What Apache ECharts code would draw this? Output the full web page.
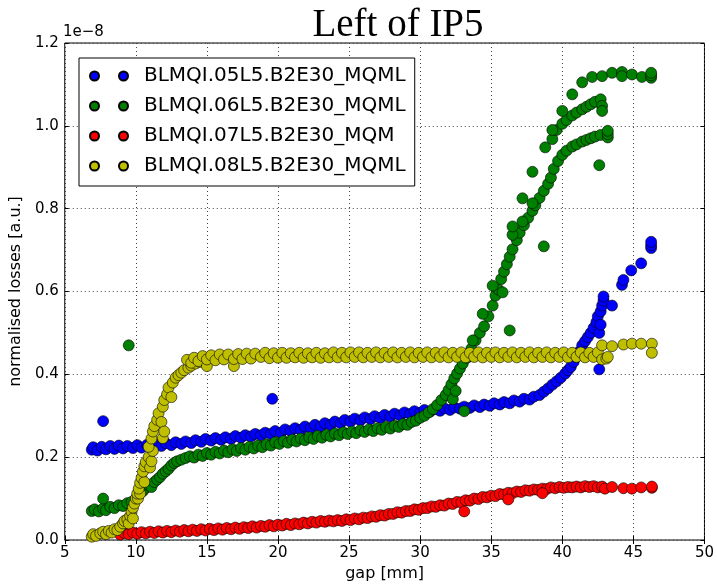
<!DOCTYPE html>
<html>
<head>
<meta charset="utf-8">
<script src="https://cdn.jsdelivr.net/npm/echarts@6/dist/echarts.min.js"></script>
<style>
  html, body { margin: 0; padding: 0; background: #fff; }
  #chart { width: 717px; height: 587px; }
</style>
</head>
<body>
<div id="chart"></div>
<script>
// losses in units of 1e-8, gap in mm
var xTicks = [5, 10, 15, 20, 25, 30, 35, 40, 45, 50];
var yTicks = [0.0, 0.2, 0.4, 0.6, 0.8, 1.0, 1.2];
var seriesNames = ['BLMQI.05L5.B2E30_MQML', 'BLMQI.06L5.B2E30_MQML', 'BLMQI.07L5.B2E30_MQM', 'BLMQI.08L5.B2E30_MQML'];

var blm05 = [
  [6.9,0.218],[7.0,0.224],[7.3,0.216],[7.6,0.225],[7.9,0.219],[8.2,0.227],[8.5,0.220],[8.8,0.228],[9.1,0.221],[9.4,0.227],
  [9.8,0.222],[10.1,0.229],[10.4,0.223],[10.8,0.230],[11.1,0.225],[11.4,0.232],[11.8,0.227],[12.1,0.234],[12.5,0.229],[12.8,0.236],
  [13.2,0.232],[13.5,0.238],[13.9,0.234],[14.2,0.241],[14.6,0.237],[14.9,0.244],[15.3,0.240],[15.6,0.246],[16.0,0.242],[16.3,0.248],
  [16.7,0.244],[17.0,0.251],[17.4,0.247],[17.7,0.253],[18.1,0.250],[18.4,0.256],[18.8,0.253],[19.1,0.259],[19.5,0.256],[19.8,0.263],
  [20.2,0.259],[20.5,0.267],[20.9,0.263],[21.2,0.270],[21.6,0.266],[21.9,0.274],[22.3,0.270],[22.6,0.278],[23.0,0.274],[23.3,0.282],
  [23.7,0.278],[24.0,0.286],[24.4,0.282],[24.7,0.290],[25.1,0.286],[25.4,0.293],[25.8,0.289],[26.1,0.296],[26.5,0.292],[26.8,0.299],
  [27.2,0.295],[27.5,0.302],[27.9,0.298],[28.2,0.305],[28.6,0.301],[28.9,0.308],[29.3,0.304],[29.6,0.311],[30.0,0.307],[30.3,0.314],
  [30.7,0.310],[31.0,0.316],[31.4,0.312],[31.7,0.318],[32.1,0.314],[32.4,0.320],[32.8,0.317],[33.1,0.322],[33.5,0.319],[33.8,0.325],
  [34.2,0.321],[34.5,0.327],[34.9,0.324],[35.2,0.330],[35.6,0.327],[35.9,0.333],[36.3,0.330],[36.6,0.337],[37.0,0.334],[37.3,0.341],
  [37.7,0.339],[38.0,0.346],[38.4,0.350],[38.7,0.358],[39.0,0.366],[39.3,0.375],[39.6,0.383],[39.9,0.392],[40.2,0.402],[40.4,0.410],
  [40.6,0.418],[40.8,0.430],[41.0,0.442],[41.2,0.455],[41.4,0.470],[41.6,0.480],[41.8,0.490],[42.0,0.500],[42.2,0.512],[42.4,0.526],
  [42.5,0.540],[42.7,0.552],[42.8,0.566],[42.9,0.578],[42.9,0.588],[42.6,0.500],[42.7,0.520],
  [7.7,0.287],[19.6,0.341],[42.6,0.412],[43.5,0.566],
  [44.2,0.616],[44.3,0.628],[44.85,0.651],[45.55,0.668],[46.25,0.705],[46.25,0.712],[46.25,0.720]
];

var blm06 = [
  [6.9,0.070],[7.1,0.074],[7.4,0.069],[7.7,0.076],[7.9,0.072],[8.2,0.080],[8.5,0.077],[8.8,0.084],[9.1,0.082],[9.4,0.089],
  [9.7,0.092],[10.0,0.100],[10.2,0.108],[10.5,0.118],[10.7,0.126],[10.9,0.132],[11.1,0.128],[11.3,0.140],[11.5,0.146],[11.7,0.152],
  [11.9,0.160],[12.1,0.166],[12.3,0.172],[12.5,0.180],[12.7,0.186],[12.9,0.190],[13.2,0.194],[13.5,0.198],[13.8,0.202],[14.1,0.199],
  [14.4,0.206],[14.7,0.203],[15.0,0.210],[15.3,0.206],[15.6,0.213],[15.9,0.209],[16.2,0.216],[16.5,0.212],[16.8,0.219],[17.1,0.215],
  [17.4,0.222],[17.7,0.218],[18.0,0.225],[18.3,0.221],[18.6,0.228],[18.9,0.224],[19.2,0.231],[19.5,0.228],[19.8,0.236],[20.1,0.232],
  [20.4,0.239],[20.7,0.235],[21.0,0.242],[21.3,0.238],[21.6,0.245],[21.9,0.241],[22.2,0.248],[22.5,0.244],[22.8,0.251],[23.1,0.247],
  [23.4,0.254],[23.7,0.250],[24.0,0.257],[24.3,0.253],[24.6,0.260],[24.9,0.256],[25.2,0.262],[25.5,0.258],[25.8,0.265],[26.1,0.261],
  [26.4,0.267],[26.7,0.263],[27.0,0.270],[27.3,0.266],[27.6,0.273],[27.9,0.269],[28.2,0.276],[28.5,0.273],[28.8,0.280],[29.1,0.278],
  [29.4,0.285],[29.7,0.288],[30.0,0.295],[30.3,0.300],[30.6,0.308],[30.9,0.316],[31.2,0.326],[31.5,0.338],[31.8,0.350],[32.0,0.362],
  [32.2,0.376],[32.4,0.390],[32.6,0.402],[32.8,0.414],[33.0,0.426],[33.3,0.440],[33.6,0.462],[33.9,0.482],[34.2,0.500],[34.5,0.516],
  [34.8,0.540],[35.1,0.566],[35.3,0.590],[35.5,0.605],[35.7,0.630],[35.9,0.648],[36.1,0.666],[36.3,0.684],[36.5,0.702],[36.8,0.724],
  [37.0,0.742],[37.3,0.760],[37.6,0.778],[37.9,0.795],[38.1,0.808],[38.4,0.826],[38.7,0.843],[39.0,0.860],[39.2,0.875],[39.4,0.896],
  [39.7,0.915],[40.0,0.930],[40.3,0.940],[40.7,0.950],[41.0,0.955],[41.4,0.962],[41.7,0.966],[42.0,0.970],[42.3,0.974],[42.7,0.978],
  [33.7,0.482],[34.4,0.546],[35.1,0.614],[35.8,0.598],[36.5,0.737],[37.2,0.769],[37.9,0.813],
  [38.8,0.948],[39.3,0.968],[39.6,0.990],[40.0,1.005],[40.3,1.014],[40.7,1.025],[41.0,1.032],[41.4,1.040],[41.7,1.046],
  [42.0,1.052],[42.3,1.058],[42.7,1.064],[42.8,1.048],[42.8,1.036],
  [40.7,1.076],[41.4,1.105],[42.1,1.118],[42.8,1.120],[43.5,1.128],[44.2,1.130],[44.2,1.120],[44.9,1.124],[45.6,1.118],
  [46.25,1.116],[46.25,1.122],[46.25,1.128],
  [7.7,0.100],[9.5,0.470],[33.1,0.311],[32.3,0.340],[32.5,0.360],[36.3,0.506],[38.7,0.709],[42.6,0.905],
  [43.2,0.972],[43.2,0.980],[43.2,0.988],[36.5,0.757],[37.2,0.825],[37.9,0.889],[39.3,0.990],[40.0,1.036]
];

var blm07 = [
  [8.9,0.013],[9.2,0.017],[9.5,0.014],[9.8,0.018],[10.1,0.015],[10.4,0.019],[10.7,0.016],[11.0,0.020],[11.3,0.017],[11.6,0.021],
  [11.9,0.018],[12.2,0.022],[12.5,0.019],[12.8,0.023],[13.1,0.020],[13.4,0.024],[13.7,0.021],[14.0,0.025],[14.3,0.022],[14.6,0.026],
  [14.9,0.023],[15.2,0.027],[15.5,0.024],[15.8,0.028],[16.1,0.025],[16.4,0.029],[16.7,0.026],[17.0,0.030],[17.3,0.027],[17.6,0.031],
  [17.9,0.029],[18.2,0.033],[18.5,0.030],[18.8,0.034],[19.1,0.032],[19.4,0.036],[19.7,0.033],[20.0,0.037],[20.3,0.035],[20.6,0.039],
  [20.9,0.036],[21.2,0.040],[21.5,0.038],[21.8,0.042],[22.1,0.040],[22.4,0.044],[22.7,0.042],[23.0,0.046],[23.3,0.044],[23.6,0.047],
  [23.9,0.045],[24.2,0.048],[24.5,0.046],[24.8,0.050],[25.1,0.048],[25.4,0.052],[25.7,0.050],[26.0,0.054],[26.3,0.053],[26.6,0.057],
  [26.9,0.056],[27.2,0.060],[27.5,0.059],[27.8,0.063],[28.1,0.063],[28.4,0.067],[28.7,0.066],[29.0,0.070],[29.3,0.070],[29.6,0.074],
  [29.9,0.073],[30.2,0.077],[30.5,0.077],[30.8,0.081],[31.1,0.080],[31.4,0.084],[31.7,0.083],[32.0,0.088],[32.3,0.087],[32.6,0.092],
  [32.9,0.091],[33.2,0.096],[33.5,0.095],[33.8,0.100],[34.1,0.099],[34.4,0.104],[34.7,0.103],[35.0,0.107],[35.3,0.106],[35.6,0.111],
  [35.9,0.110],[36.2,0.114],[36.5,0.113],[36.8,0.117],[37.1,0.116],[37.4,0.120],[37.7,0.119],[38.0,0.122],[38.3,0.121],[38.6,0.124],
  [38.9,0.123],[39.2,0.127],[39.5,0.125],[39.8,0.128],[40.1,0.126],[40.4,0.128],[40.7,0.127],[41.0,0.129],[41.3,0.127],[41.6,0.130],
  [41.9,0.128],[42.2,0.130],[42.5,0.127],[42.8,0.129],[43.0,0.124],[43.5,0.128],[44.3,0.125],[44.9,0.124],[45.55,0.127],
  [46.3,0.126],[46.3,0.129],
  [33.1,0.069],[36.2,0.098],[38.6,0.113]
];

var blm08 = [
  [6.9,0.008],[7.0,0.014],[7.2,0.010],[7.5,0.016],[7.7,0.020],[7.9,0.014],[8.1,0.022],[8.3,0.018],[8.5,0.026],[8.7,0.024],
  [8.9,0.032],[9.1,0.040],[9.2,0.046],[9.4,0.050],[9.5,0.040],[9.6,0.058],[9.7,0.068],[9.8,0.052],[9.8,0.078],[9.9,0.088],
  [10.0,0.100],[10.15,0.100],[10.1,0.112],[10.3,0.112],[10.2,0.124],[10.3,0.138],[10.4,0.150],[10.6,0.140],[10.5,0.165],[10.6,0.178],
  [10.7,0.188],[10.9,0.200],[11.0,0.175],[11.1,0.190],[11.2,0.215],[10.9,0.225],[11.1,0.245],[11.2,0.262],[11.3,0.275],[11.5,0.290],
  [11.6,0.306],[11.8,0.285],[11.9,0.246],[12.0,0.262],[11.9,0.322],[12.0,0.338],[12.2,0.352],[12.3,0.368],[12.5,0.345],[12.6,0.380],
  [12.8,0.392],[13.0,0.398],[13.2,0.404],[13.4,0.410],[13.7,0.416],[13.9,0.421],[14.2,0.426],[14.5,0.430],[14.8,0.434],
  [13.6,0.435],[13.9,0.428],[14.1,0.440],[14.4,0.432],[14.7,0.444],[15.0,0.420],[15.0,0.436],[15.3,0.446],[15.6,0.434],[15.9,0.448],
  [16.2,0.436],[16.5,0.448],[16.9,0.420],[16.9,0.437],[17.2,0.449],[17.5,0.437],[17.8,0.450],[18.1,0.438],[18.4,0.450],[18.8,0.442],
  [19.1,0.452],[19.4,0.439],[19.7,0.451],[20.0,0.440],[20.3,0.452],[20.6,0.440],[20.9,0.451],[21.2,0.441],[21.5,0.452],[21.8,0.440],
  [22.1,0.451],[22.4,0.441],[22.7,0.452],[23.0,0.440],[23.3,0.451],[23.6,0.441],[23.9,0.453],[24.2,0.441],[24.5,0.452],[24.8,0.441],
  [25.1,0.453],[25.4,0.442],[25.7,0.453],[26.0,0.441],[26.3,0.452],[26.6,0.442],[26.9,0.453],[27.2,0.441],[27.5,0.452],[27.8,0.442],
  [28.1,0.453],[28.4,0.441],[28.7,0.452],[29.0,0.442],[29.3,0.453],[29.6,0.441],[29.9,0.452],[30.2,0.442],[30.5,0.453],[30.8,0.441],
  [31.1,0.452],[31.4,0.442],[31.7,0.453],[32.0,0.441],[32.3,0.452],[32.6,0.442],[32.9,0.453],[33.2,0.441],[33.5,0.452],[33.8,0.442],
  [34.1,0.453],[34.4,0.441],[34.7,0.452],[35.0,0.442],[35.3,0.453],[35.6,0.441],[35.9,0.452],[36.2,0.442],[36.5,0.453],[36.8,0.441],
  [37.1,0.452],[37.4,0.442],[37.7,0.453],[38.0,0.441],[38.3,0.452],[38.6,0.442],[38.9,0.453],[39.2,0.441],[39.5,0.452],[39.8,0.442],
  [40.1,0.453],[40.4,0.441],[40.7,0.452],[41.0,0.442],[41.3,0.453],[41.6,0.441],[41.9,0.452],[42.2,0.442],[42.5,0.453],[42.8,0.436],
  [43.1,0.438],[43.2,0.442],
  [42.8,0.470],[43.5,0.468],[44.3,0.472],[44.9,0.474],[45.55,0.474],[46.3,0.474],[46.3,0.452]
];

var colors = ['#0000ff', '#008000', '#ff0000', '#bfbf00'];
var allData = [blm05, blm06, blm07, blm08];

var font = 'DejaVu Sans';
var chart = echarts.init(document.getElementById('chart'));

function makeSeries(i) {
  return {
    name: seriesNames[i],
    type: 'scatter',
    data: allData[i],
    symbol: 'circle',
    symbolSize: 11,
    xAxisIndex: 0,
    yAxisIndex: 0,
    itemStyle: {
      color: colors[i],
      opacity: 1,
      borderColor: '#000',
      borderWidth: 0.6
    },
    animation: false
  }
}

chart.setOption({
  backgroundColor: '#fff',
  title: {
    text: 'Left of IP5',
    left: 393,
    top: 1,
    textAlign: 'center',
    textStyle: { fontFamily: 'Liberation Serif', fontSize: 39, fontWeight: 'normal', color: '#000' }
  },
  grid: {
    left: 63, top: 43, width: 644, height: 502,
    show: true, borderColor: '#000', borderWidth: 1, backgroundColor: '#fff'
  },
  legend: {
    orient: 'vertical',
    left: 79,
    top: 58,
    padding: [8, 9, 10, 10],
    itemWidth: 38,
    itemHeight: 9,
    itemGap: 10,
    backgroundColor: '#fff',
    borderColor: '#000',
    borderWidth: 1,
    icon: 'path://M0,4.5A4.5,4.5,0,1,1,9,4.5A4.5,4.5,0,1,1,0,4.5ZM29,4.5A4.5,4.5,0,1,1,38,4.5A4.5,4.5,0,1,1,29,4.5Z',
    textStyle: { fontFamily: font, fontSize: 20, color: '#000', lineHeight: 20, padding: [0, 0, 0, 11] },
    data: seriesNames
  },
  xAxis: [{
    type: 'value', min: xTicks[0], max: xTicks[xTicks.length - 1], interval: 5,
    name: 'gap [mm]', nameLocation: 'middle', nameGap: 26,
    nameTextStyle: { fontFamily: font, fontSize: 16, color: '#000' },
    axisLine: { show: false },
    axisTick: { inside: true, length: 4, lineStyle: { color: '#000' } },
    axisLabel: { fontFamily: font, fontSize: 15, color: '#000', margin: 6 },
    splitLine: { show: true, lineStyle: { color: '#444', type: [1, 3], width: 1 } }
  }, {
    type: 'value', position: 'top', min: xTicks[0], max: xTicks[xTicks.length - 1], interval: 5,
    axisLine: { show: false },
    axisTick: { inside: true, length: 4, lineStyle: { color: '#000' } },
    axisLabel: { show: false }, splitLine: { show: false }
  }],
  yAxis: [{
    type: 'value', min: yTicks[0], max: yTicks[yTicks.length - 1], interval: 0.2,
    name: 'normalised losses [a.u.]', nameLocation: 'middle', nameGap: 40,
    nameTextStyle: { fontFamily: font, fontSize: 16, color: '#000' },
    axisLine: { show: false },
    axisTick: { inside: true, length: 4, lineStyle: { color: '#000' } },
    axisLabel: { fontFamily: font, fontSize: 15, color: '#000', margin: 6, formatter: function (v) { return v.toFixed(1); } },
    splitLine: { show: true, lineStyle: { color: '#444', type: [1, 3], width: 1 } }
  }, {
    type: 'value', position: 'right', min: yTicks[0], max: yTicks[yTicks.length - 1], interval: 0.2,
    axisLine: { show: false },
    axisTick: { inside: true, length: 4, lineStyle: { color: '#000' } },
    axisLabel: { show: false }, splitLine: { show: false }
  }],
  graphic: [{
    type: 'text', left: 63, top: 25,
    style: { text: '1e\u22128', fontFamily: font, fontSize: 15, fill: '#000' }
  }],
  series: [makeSeries(0), makeSeries(1), makeSeries(2), makeSeries(3)]
});
</script>
</body>
</html>
